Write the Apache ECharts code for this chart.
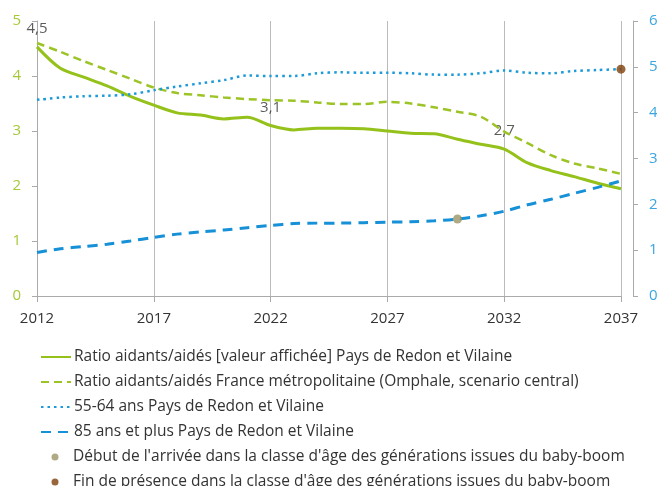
<!DOCTYPE html>
<html><head><meta charset="utf-8">
<script src="https://cdn.jsdelivr.net/npm/echarts@6/dist/echarts.min.js"></script>
<style>html,body{margin:0;padding:0;background:#fff}#c{width:657px;height:486px}</style>
</head><body><div id="c"></div>
<script>
const years = ['2012','2013','2014','2015','2016','2017','2018','2019','2020','2021','2022','2023','2024','2025','2026','2027','2028','2029','2030','2031','2032','2033','2034','2035','2036','2037'];
const ratioRedon = [4.53,4.14,3.98,3.82,3.63,3.47,3.33,3.29,3.22,3.25,3.10,3.02,3.05,3.05,3.04,3.00,2.96,2.95,2.85,2.76,2.67,2.42,2.28,2.17,2.05,1.95];
const ratioFrance = [4.60,4.44,4.27,4.11,3.95,3.79,3.69,3.65,3.61,3.58,3.56,3.55,3.52,3.49,3.49,3.53,3.50,3.43,3.35,3.26,2.99,2.78,2.56,2.41,2.32,2.22];
const age5564 = [4.28,4.33,4.36,4.37,4.40,4.49,4.57,4.64,4.71,4.81,4.80,4.80,4.86,4.88,4.87,4.87,4.86,4.83,4.83,4.86,4.92,4.87,4.86,4.91,4.93,4.95];
const age85 = [0.95,1.03,1.08,1.13,1.20,1.28,1.35,1.40,1.44,1.49,1.54,1.58,1.59,1.59,1.60,1.61,1.62,1.64,1.68,1.75,1.85,1.99,2.11,2.24,2.37,2.51];
const babyBoomStart = [['2030', 1.68]];
const babyBoomEnd = [['2037', 4.95]];
const labelledYears = ['2012','2022','2032'];
const leftTicks = [0,5,1];
const rightTicks = [0,6,1];

const names = [
  'Ratio aidants/aidés [valeur affichée] Pays de Redon et Vilaine',
  'Ratio aidants/aidés France métropolitaine (Omphale, scenario central)',
  '55-64 ans Pays de Redon et Vilaine',
  '85 ans et plus Pays de Redon et Vilaine',
  "Début de l'arrivée dans la classe d'âge des générations issues du baby-boom",
  "Fin de présence dans la classe d'âge des générations issues du baby-boom"
];
const FONT = 'Open Sans';
const green = '#94c11a', green2 = '#9dc427', blue = '#1d9ad8', blue2 = '#1690d6';

const labelData = labelledYears.map(y => [y, ratioRedon[years.indexOf(y)]]);

const legText = {color: '#333', fontSize: 15.5, lineHeight: 16, fontFamily: FONT, padding: [0,0,0,-2]};
const rowTop = 349, rowStep = 25;
const legends = [
  {data: names.slice(0,4), orient: 'vertical', left: 40, top: rowTop, padding: 0, itemWidth: 30, itemHeight: 14, itemGap: rowStep - 16,
   itemStyle: {opacity: 0}, textStyle: legText},
  {data: [names[4]], orient: 'vertical', left: 51.5, top: rowTop + 4*rowStep, padding: 0, itemWidth: 30, itemHeight: 7,
   textStyle: legText},
  {data: [names[5]], orient: 'vertical', left: 51.5, top: rowTop + 5*rowStep, padding: 0, itemWidth: 30, itemHeight: 7,
   textStyle: legText}
];

const chart = echarts.init(document.getElementById('c'));
chart.setOption({
  animation: false,
  textStyle: {fontFamily: FONT},
  grid: {left: 37, right: 36, top: 21, bottom: 190, containLabel: false, outerBoundsMode: 'none'},
  xAxis: {
    type: 'category', data: years, boundaryGap: false,
    axisLine: {lineStyle: {color: '#aaa'}},
    axisTick: {interval: 4, length: 6, lineStyle: {color: '#aaa'}},
    axisLabel: {interval: 4, color: '#333', fontSize: 15, margin: 15, fontFamily: FONT},
    splitLine: {show: true, interval: 4, lineStyle: {color: '#bbb', width: 1}}
  },
  yAxis: [
    {type: 'value', min: leftTicks[0], max: leftTicks[1], interval: leftTicks[2], position: 'left',
     axisLine: {show: true, lineStyle: {color: '#aaa'}},
     axisTick: {show: true, length: 5, lineStyle: {color: '#aaa'}},
     axisLabel: {color: '#a6c93a', fontSize: 15, margin: 16, fontFamily: FONT},
     splitLine: {show: false}},
    {type: 'value', min: rightTicks[0], max: rightTicks[1], interval: rightTicks[2], position: 'right', offset: 12,
     axisLine: {show: true, lineStyle: {color: '#aaa'}},
     axisTick: {show: true, length: 5, lineStyle: {color: '#aaa'}},
     axisLabel: {color: '#3aa6e0', fontSize: 15, margin: 16, fontFamily: FONT},
     splitLine: {show: false}}
  ],
  legend: legends,
  series: [
    {name: names[0], type: 'line', yAxisIndex: 0, data: ratioRedon, smooth: 0.3, symbol: 'none',
     lineStyle: {color: green, width: 3}, itemStyle: {color: green}},
    {name: names[1], type: 'line', yAxisIndex: 0, data: ratioFrance, smooth: 0.3, symbol: 'none',
     lineStyle: {color: green2, width: 2.5, type: [8,5]}, itemStyle: {color: green2}},
    {name: names[2], type: 'line', yAxisIndex: 1, data: age5564, smooth: 0.3, symbol: 'none',
     lineStyle: {color: blue, width: 2.5, type: [2.5,4]}, itemStyle: {color: blue}},
    {name: names[3], type: 'line', yAxisIndex: 1, data: age85, smooth: 0.3, symbol: 'none',
     lineStyle: {color: blue2, width: 3, type: [10,7]}, itemStyle: {color: blue2}},
    {name: names[4], type: 'scatter', yAxisIndex: 1, data: babyBoomStart, symbol: 'circle', symbolSize: 9,
     itemStyle: {color: '#9b9465'}, z: 5},
    {name: names[5], type: 'scatter', yAxisIndex: 1, data: babyBoomEnd, symbol: 'circle', symbolSize: 9,
     itemStyle: {color: '#7f3f0a'}, z: 5},
    {name: 'labels', type: 'scatter', yAxisIndex: 0, data: labelData, symbolSize: 1,
     itemStyle: {color: 'rgba(0,0,0,0)'}, silent: true,
     label: {show: true, position: 'top', distance: 10, color: '#333', fontSize: 15, fontFamily: FONT,
       formatter: p => p.value[1].toFixed(1).replace('.', ',')}}
  ]
});
</script></body></html>
